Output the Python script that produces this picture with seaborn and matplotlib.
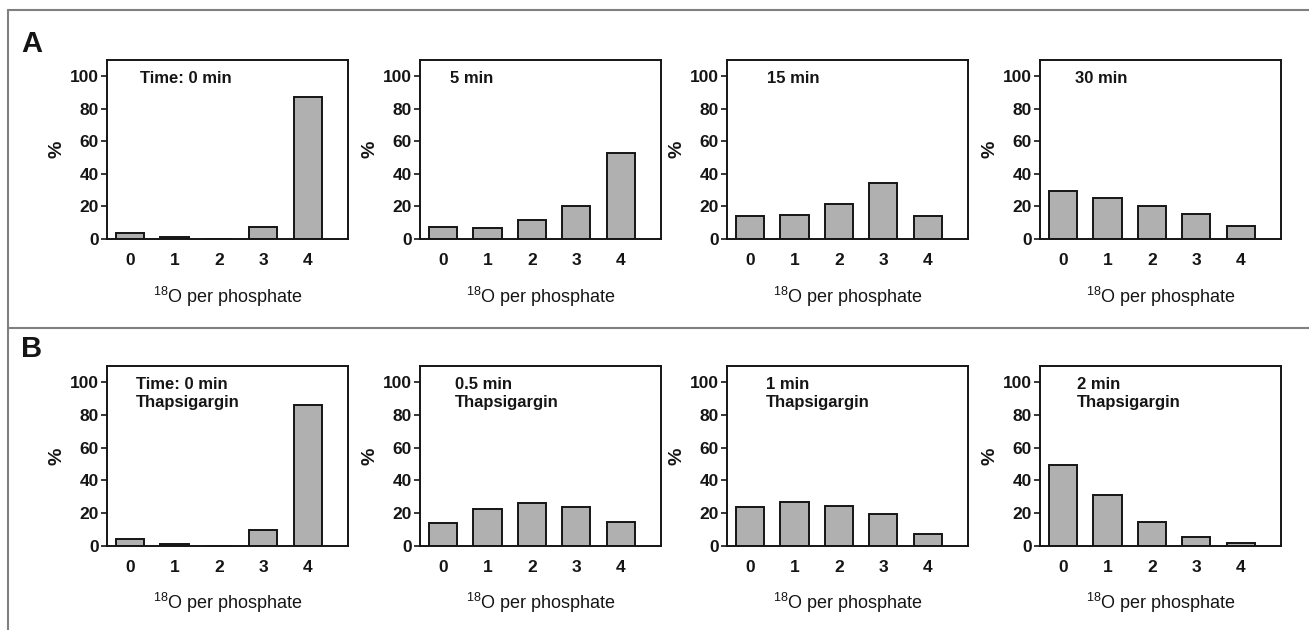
import matplotlib
matplotlib.use('Agg')
import matplotlib.pyplot as plt
import seaborn as sns
import pandas as pd
from matplotlib.lines import Line2D

# ---- data ----
categories = ['0', '1', '2', '3', '4']
a_labels = ['Time: 0 min', '5 min', '15 min', '30 min']
b_labels = ['Time: 0 min\nThapsigargin', '0.5 min\nThapsigargin',
            '1 min\nThapsigargin', '2 min\nThapsigargin']
a_0min = [3.5, 1.0, 0.0, 7.5, 87.5]
a_5min = [7.4, 6.5, 11.5, 20.2, 53.0]
a_15min = [14.3, 15.0, 21.3, 34.4, 13.9]
a_30min = [29.4, 25.2, 20.4, 15.3, 7.8]
b_0min = [3.9, 1.0, 0.0, 9.6, 86.0]
b_05min = [14.0, 22.6, 26.3, 23.5, 14.7]
b_1min = [23.6, 26.7, 24.4, 19.5, 7.3]
b_2min = [49.1, 30.8, 14.7, 5.1, 1.6]
y_ticks = [0, 20, 40, 60, 80, 100]
panel_letters = ['A', 'B']
x_label = '$^{18}$O per phosphate'
y_label = '%'

sns.set_style('white')
plt.rcParams['font.family'] = ['Liberation Sans', 'DejaVu Sans']
plt.rcParams['mathtext.fontset'] = 'custom'
plt.rcParams['mathtext.rm'] = 'Liberation Sans'
plt.rcParams['mathtext.default'] = 'rm'

W, H = 1309, 630
fig = plt.figure(figsize=(W / 100, H / 100), dpi=100)

lefts = [107, 420, 727, 1040]
ax_w = 241
rows = [(60, 239), (366, 545.7)]
text_x = [[0.137, 0.124, 0.166, 0.145], [0.12, 0.145, 0.16, 0.153]]

row_data = [[a_0min, a_5min, a_15min, a_30min], [b_0min, b_05min, b_1min, b_2min]]
row_labels = [a_labels, b_labels]
ink = '#151515'

for r, (top, bottom) in enumerate(rows):
    for c, left in enumerate(lefts):
        ax = fig.add_axes([left / W, 1 - bottom / H, ax_w / W, (bottom - top) / H])
        df = pd.DataFrame({'n': categories, 'pct': row_data[r][c]})
        sns.barplot(data=df, x='n', y='pct', ax=ax, color='#b0b0b0',
                    saturation=1, edgecolor=ink, linewidth=1.4,
                    width=0.63, errorbar=None)
        ax.set_xlim(-0.517, 4.9)
        ax.set_ylim(0, 110)
        ax.set_yticks(y_ticks)
        for s in ax.spines.values():
            s.set_visible(True)
            s.set_color(ink)
            s.set_linewidth(1.4)
        ax.tick_params(axis='y', direction='out', length=4, width=1.2,
                       pad=2, labelsize=12.5, left=True, colors=ink)
        ax.tick_params(axis='x', length=0, pad=10, labelsize=12.5, colors=ink)
        for lbl in ax.get_xticklabels() + ax.get_yticklabels():
            lbl.set_fontweight('bold')
        ax.set_xlabel(x_label, fontsize=13, labelpad=12, color=ink)
        ax.set_ylabel(y_label, fontsize=14, fontweight='bold', labelpad=3, color=ink)
        ax.text(text_x[r][c], 0.94, row_labels[r][c], transform=ax.transAxes,
                ha='left', va='top', fontsize=12, fontweight='bold',
                linespacing=1.25, color=ink)

# panel letters
fig.text(21 / W, 1 - 30 / H, panel_letters[0], fontsize=21, fontweight='bold',
         ha='left', va='top', color=ink)
fig.text(21 / W, 1 - 335 / H, panel_letters[1], fontsize=21, fontweight='bold',
         ha='left', va='top', color=ink)

# frame lines
lc = '#808080'
fig.add_artist(Line2D([8 / W, 1], [1 - 10 / H] * 2, transform=fig.transFigure, color=lc, lw=1.5))
fig.add_artist(Line2D([8 / W, 1], [1 - 327.7 / H] * 2, transform=fig.transFigure, color=lc, lw=1.5))
fig.add_artist(Line2D([8.3 / W] * 2, [0, 1 - 10 / H], transform=fig.transFigure, color=lc, lw=1.5))

fig.savefig('out.png', dpi=100)
